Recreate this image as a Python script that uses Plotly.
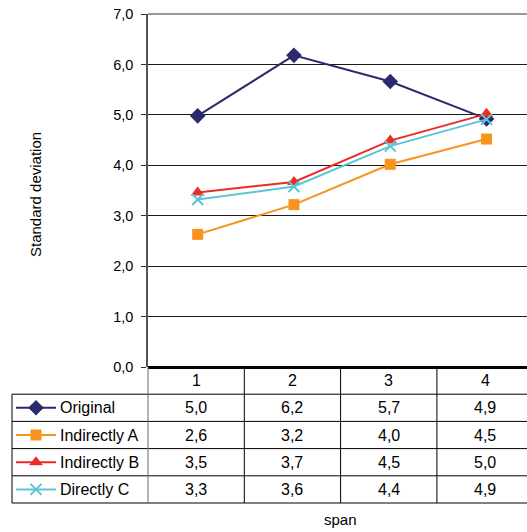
import plotly.graph_objects as go

# Span categories and standard deviation per method
spans = [1, 2, 3, 4]
original = [4.98, 6.18, 5.66, 4.92]
indirectly_a = [2.63, 3.22, 4.02, 4.52]
indirectly_b = [3.46, 3.67, 4.49, 5.02]
directly_c = [3.32, 3.58, 4.38, 4.91]
y_ticks = [0, 1, 2, 3, 4, 5, 6, 7]

W, H = 527, 532
FONT = "Liberation Sans, Arial, sans-serif"

series = [
    ("Original", original, "#2B2A6E", "diamond", 12, 0),
    ("Indirectly A", indirectly_a, "#F7941D", "square", 11, 0),
    ("Indirectly B", indirectly_b, "#EE2A24", "triangle-up", 12, 0),
    ("Directly C", directly_c, "#5BC5D3", "x-thin", 11, 2),
]

# plot-area geometry in pixels
X0, Y_TOP, Y_BOT = 148, 14, 367
STEP = 96.3
ROW_H = 27.2
X_SHIFT = 1.5  # category centres sit slightly right of the table columns


def px(x):
    return x / W


def py(y):
    return 1 - y / H


fig = go.Figure()

for name, vals, color, sym, size, lw in series:
    mk = dict(symbol=sym, size=size, color=color)
    if lw:
        mk["line"] = dict(width=lw, color=color)
    fig.add_trace(go.Scatter(
        x=spans, y=vals, mode="lines+markers", name=name,
        line=dict(color=color, width=2), marker=mk,
        showlegend=False, xaxis="x", yaxis="y", cliponaxis=False,
    ))

x_range_start = 0.5 - X_SHIFT / STEP
x_range_end = x_range_start + (W - X0) / STEP

shapes = []
annotations = []

# data table beneath the plot
tbl_left = 12
col_edges = [X0 + STEP * k for k in range(5)]
row_edges = [Y_BOT + ROW_H * k for k in range(6)]
line_style = dict(color="#000000", width=1)

# horizontal rules
for i, y in enumerate(row_edges[1:], start=1):
    shapes.append(dict(type="line", xref="paper", yref="paper",
                       x0=px(tbl_left), x1=px(W), y0=py(y), y1=py(y),
                       line=line_style))
# left border of label column
shapes.append(dict(type="line", xref="paper", yref="paper",
                   x0=px(tbl_left), x1=px(tbl_left),
                   y0=py(row_edges[1]), y1=py(row_edges[-1]), line=line_style))
# column separators
for k, x in enumerate(col_edges[:4]):
    shapes.append(dict(type="line", xref="paper", yref="paper",
                       x0=px(x), x1=px(x), y0=py(Y_BOT), y1=py(row_edges[-1]),
                       line=dict(color="#666666" if k == 0 else "#000000", width=1)))

TBL_FONT = dict(family=FONT, size=16, color="#000")

# header row: span numbers
for i, s in enumerate(spans):
    cx = X0 + STEP * (i + 0.5)
    annotations.append(dict(xref="paper", yref="paper", x=px(cx),
                            y=py(Y_BOT + ROW_H / 2), text=str(s), showarrow=False,
                            xanchor="center", yanchor="middle", font=TBL_FONT))

# body rows
for r, (name, vals, color, sym, size, lw) in enumerate(series):
    cy = Y_BOT + ROW_H * (r + 1.5)
    annotations.append(dict(xref="paper", yref="paper", x=px(58), y=py(cy),
                            text=name, showarrow=False, xanchor="left",
                            yanchor="middle", font=TBL_FONT))
    for i, v in enumerate(vals):
        cx = X0 + STEP * (i + 0.5)
        annotations.append(dict(xref="paper", yref="paper", x=px(cx), y=py(cy),
                                text=f"{v:.1f}".replace(".", ","),
                                showarrow=False, xanchor="center",
                                yanchor="middle", font=TBL_FONT))
    # key symbol: short line with marker
    fig.add_trace(go.Scatter(x=[16, 56], y=[cy, cy], mode="lines",
                             line=dict(color=color, width=2),
                             showlegend=False, xaxis="x2", yaxis="y2",
                             hoverinfo="skip"))
    mk = dict(symbol=sym, size=size, color=color)
    if lw:
        mk["line"] = dict(width=lw, color=color)
    fig.add_trace(go.Scatter(x=[36], y=[cy], mode="markers", marker=mk,
                             showlegend=False, xaxis="x2", yaxis="y2",
                             hoverinfo="skip"))

# axis titles
annotations.append(dict(xref="paper", yref="paper", x=px(35), y=py(195),
                        text="Standard deviation", textangle=-90,
                        showarrow=False, xanchor="center", yanchor="middle",
                        font=dict(family=FONT, size=15, color="#000")))
annotations.append(dict(xref="paper", yref="paper", x=px(340), y=py(519),
                        text="span", showarrow=False, xanchor="center",
                        yanchor="middle",
                        font=dict(family=FONT, size=15, color="#000")))

# top edge of plot area in grey
shapes.append(dict(type="line", xref="paper", yref="paper",
                   x0=px(X0), x1=1, y0=py(Y_TOP), y1=py(Y_TOP),
                   line=dict(color="#777777", width=1.5)))

fig.update_layout(
    template="none",
    width=W, height=H,
    margin=dict(l=0, r=0, t=0, b=0, pad=0, autoexpand=False),
    paper_bgcolor="white", plot_bgcolor="rgba(0,0,0,0)",
    separators=", ",
    xaxis=dict(domain=[px(X0), 1], range=[x_range_start, x_range_end],
               showticklabels=False, ticks="", showgrid=False,
               zeroline=False, showline=False, fixedrange=True,
               automargin=False),
    yaxis=dict(domain=[py(Y_BOT), py(Y_TOP)], range=[0, 7],
               tickvals=y_ticks, tickformat=".1f", ticks="outside",
               ticklen=5, tickcolor="#333", tickwidth=1, showgrid=True,
               gridcolor="#1a1a1a", gridwidth=1, zeroline=True,
               zerolinecolor="#000", zerolinewidth=2.5,
               showline=True, linecolor="#555555", linewidth=1.5,
               tickfont=dict(family=FONT, size=14.5, color="#000"),
               ticklabelstandoff=5, automargin=False, fixedrange=True),
    xaxis2=dict(domain=[0, 1], range=[0, W], visible=False, anchor="y2",
                fixedrange=True, automargin=False),
    yaxis2=dict(domain=[0, 1], range=[H, 0], visible=False, anchor="x2",
                fixedrange=True, automargin=False),
    shapes=shapes,
    annotations=annotations,
)

fig.write_html("out.html")
